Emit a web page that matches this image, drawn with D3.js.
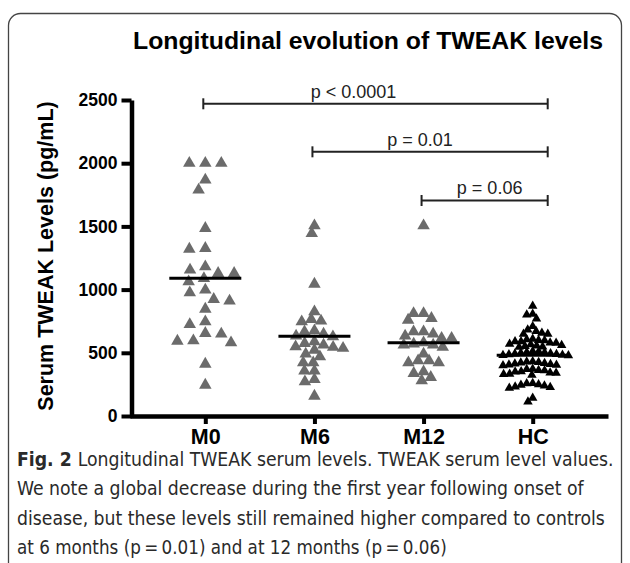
<!DOCTYPE html>
<html><head><meta charset="utf-8">
<script src="https://cdn.jsdelivr.net/npm/d3@7"></script>
<style>html,body{margin:0;padding:0;background:#fff;} svg{display:block;}</style>
</head><body><svg id="chart" width="630" height="563"></svg>
<script>
// ---------- data ----------
const categories = ["M0", "M6", "M12", "HC"];
const valuesM0 = [2000, 2000, 2000, 1867, 1788, 1485, 1321, 1327, 1181, 1129, 1155, 1129, 1089, 1063,
  976, 997, 910, 923, 846, 746, 725, 654, 649, 596, 580, 593, 411, 245];
const valuesM6 = [1445, 1506, 1044, 825, 752, 746, 765, 675, 667, 649, 588, 633, 627, 562, 575, 522,
  536, 544, 548, 491, 469, 422, 422, 356, 356, 290, 271, 158];
const valuesM12 = [1506, 773, 812, 812, 759, 633, 667, 667, 649, 615, 615, 562, 544, 580, 562, 570,
  491, 422, 438, 438, 422, 338, 350, 279, 306];
const valuesHC = [870, 801, 770, 807, 670, 649, 657, 649, 683, 709,
  605, 598, 590, 580, 570, 560, 552, 545, 548, 555, 565, 578, 590, 600, 610,
  512, 505, 498, 492, 486, 480, 478, 482, 488, 495, 502, 510,
  432, 425, 418, 410, 404, 400, 406, 414, 422, 430,
  372, 362, 352, 342, 332, 325, 330, 340, 350, 360, 370,
  260, 250, 240, 228, 222, 232, 245, 258,
  142, 113];
const meanValues = [1090, 630, 580, 480];
const yTicks = [0, 500, 1000, 1500, 2000, 2500];
const compFrom = ["M0", "M6", "M12"];
const compTo = ["HC", "HC", "HC"];
const compLevel = [2470, 2090, 1705];
const compLabels = ["p < 0.0001", "p = 0.01", "p = 0.06"];
const titleText = "Longitudinal evolution of TWEAK levels";
const yTitle = "Serum TWEAK Levels (pg/mL)";
const captionBold = "Fig. 2";
const captionLines = [
  "Longitudinal TWEAK serum levels. TWEAK serum level values.",
  "We note a global decrease during the first year following onset of",
  "disease, but these levels still remained higher compared to controls",
  "at 6 months (p\u2009=\u20090.01) and at 12 months (p\u2009=\u20090.06)"
];

// ---------- layout ----------
const svg = d3.select("#chart");
const FONT = "Arial, 'Liberation Sans', Helvetica, sans-serif";
const groups = [valuesM0, valuesM6, valuesM12, valuesHC];
const groupColor = ["#6b6b6b", "#6b6b6b", "#6b6b6b", "#000000"];
const groupSide = [12.5, 12.5, 12.5, 9.5];
const swarmW = [16, 10, 10, 6];
const swarmH = [11, 8, 8, 6];

// frame
svg.append("rect").attr("x", 8.5).attr("y", 13.5).attr("width", 613).attr("height", 640)
  .attr("rx", 12).attr("fill", "none").attr("stroke", "#444").attr("stroke-width", 1.3);

const x = d3.scalePoint().domain(categories).range([130, 608]).padding(0.69);
const y = d3.scaleLinear().domain([0, 2500]).range([416, 100]);

// title
svg.append("text").attr("x", 368).attr("y", 49).attr("text-anchor", "middle")
  .attr("font-family", FONT).attr("font-weight", "bold").attr("font-size", 24.5)
  .attr("textLength", 470).attr("lengthAdjust", "spacingAndGlyphs")
  .text(titleText);

// y title
svg.append("text").attr("transform", "translate(53,256) rotate(-90)")
  .attr("text-anchor", "middle").attr("font-family", FONT).attr("font-weight", "bold")
  .attr("font-size", 21.5).text(yTitle);

// swarm layout
function swarm(values, cw, ch) {
  const pts = values.map(v => ({ v, py: y(v), dx: 0 }));
  const order = pts.slice().sort((a, b) => d3.descending(a.v, b.v));
  const placed = [];
  for (const p of order) {
    const near = placed.filter(q => Math.abs(q.py - p.py) < ch);
    const cands = [0];
    near.forEach(q => {
      const t = 1 - Math.pow((q.py - p.py) / ch, 2);
      const off = cw * Math.sqrt(Math.max(t, 0));
      cands.push(q.dx + off, q.dx - off);
    });
    cands.sort((a, b) => Math.abs(a) - Math.abs(b) || a - b);
    for (const c of cands) {
      const ok = near.every(q => {
        const ex = (q.dx - c) / cw, ey = (q.py - p.py) / ch;
        return ex * ex + ey * ey >= 0.999;
      });
      if (ok) { p.dx = c; break; }
    }
    placed.push(p);
  }
  return pts;
}

// brackets
const bg = svg.append("g");
compFrom.forEach((f, i) => {
  const x1 = x(f) - 2, x2 = x(compTo[i]) + 15, yy = y(compLevel[i]);
  bg.append("line").attr("x1", x1).attr("x2", x2).attr("y1", yy).attr("y2", yy)
    .attr("stroke", "#222").attr("stroke-width", 2);
  [x1, x2].forEach(xx => bg.append("line").attr("x1", xx).attr("x2", xx)
    .attr("y1", yy - 5.5).attr("y2", yy + 5.5).attr("stroke", "#222").attr("stroke-width", 2));
  bg.append("text").attr("x", (i === 0 ? (x1 + x2) / 2 - 22 : (i === 1 ? (x1 + x2) / 2 - 10 : (x1 + x2) / 2 + 5)))
    .attr("y", yy - 6).attr("text-anchor", "middle").attr("font-family", FONT)
    .attr("font-size", 18).attr("fill", "#222").text(compLabels[i]);
});

// points
const sym = d3.symbol().type(d3.symbolTriangle);
groups.forEach((vals, gi) => {
  const pts = swarm(vals, swarmW[gi], swarmH[gi]);
  const s = groupSide[gi];
  svg.append("g").selectAll("path").data(pts).join("path")
    .attr("d", sym.size(s * s * Math.sqrt(3) / 4)())
    .attr("transform", d => `translate(${x(categories[gi]) + d.dx},${d.py})`)
    .attr("fill", groupColor[gi]);
});

// mean lines
svg.append("g").selectAll("line").data(meanValues).join("line")
  .attr("x1", (d, i) => x(categories[i]) - 36).attr("x2", (d, i) => x(categories[i]) + 36)
  .attr("y1", d => y(d)).attr("y2", d => y(d))
  .attr("stroke", "#000").attr("stroke-width", 3);

// axes
const yAxis = svg.append("g").attr("transform", "translate(131.5,0)")
  .call(d3.axisLeft(y).tickValues(yTicks).tickFormat(d3.format("d"))
    .tickSize(10).tickSizeOuter(0).tickPadding(4));
yAxis.select(".domain").attr("stroke", "#000").attr("stroke-width", 4.5);
yAxis.selectAll(".tick line").attr("stroke", "#000").attr("stroke-width", 4);
yAxis.selectAll(".tick text").attr("font-family", FONT).attr("font-weight", "bold")
  .attr("font-size", 17.5).attr("fill", "#000");

const xAxis = svg.append("g").attr("transform", "translate(0,416)")
  .call(d3.axisBottom(x).tickSize(8).tickSizeOuter(0));
xAxis.select(".domain").attr("stroke", "#000").attr("stroke-width", 4.5);
xAxis.selectAll(".tick line").attr("stroke", "#000").attr("stroke-width", 4);
xAxis.selectAll(".tick text").attr("font-family", FONT).attr("font-weight", "bold")
  .attr("font-size", 21.5).attr("fill", "#000").attr("y", 27.5).attr("dy", 0);

// caption: natural text, then scaled horizontally to the reference line widths
const CAP = "'DejaVu Sans Condensed', 'Liberation Sans Narrow', 'Open Sans', sans-serif";
const capLeft = 17;
const capRight = [614, 584, 605, 447];
captionLines.forEach((line, i) => {
  const g = svg.append("g");
  const t = g.append("text").attr("x", 0).attr("y", 0)
    .attr("font-family", CAP).attr("font-stretch", "condensed")
    .attr("font-size", 19).attr("fill", "#2a2a2a");
  if (i === 0) {
    t.append("tspan").attr("font-weight", "bold").text(captionBold + "  ");
  }
  t.append("tspan").text(line);
  const w = t.node().getComputedTextLength();
  const sx = (capRight[i] - capLeft) / w;
  g.attr("transform", `translate(${capLeft},${466 + i * 29.3}) scale(${sx},1.05)`);
});
</script></body></html>
